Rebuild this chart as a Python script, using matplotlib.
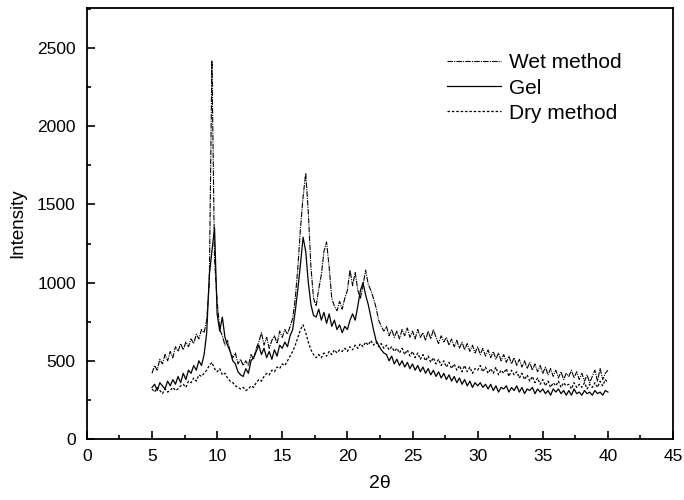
import numpy as np
import matplotlib
matplotlib.use('Agg')
import matplotlib.pyplot as plt
from matplotlib.ticker import MultipleLocator

plt.rcParams['font.family'] = ['Liberation Sans', 'DejaVu Sans']

# 2-theta grid (0.2 deg steps, 5..40)
two_theta = np.round(np.arange(5.0, 40.001, 0.2), 1)

# intensities, one row per degree
wet_method = [
    420, 470, 440, 510, 480,
    540, 500, 560, 520, 590,
    560, 610, 570, 620, 590,
    640, 610, 670, 640, 700,
    680, 760, 1000, 2420, 1150,
    880, 700, 660, 600, 630,
    560, 520, 550, 480, 510,
    470, 500, 470, 540, 510,
    580, 620, 680, 600, 650,
    580, 630, 660, 610, 690,
    650, 700, 670, 720, 770,
    900, 1100, 1350, 1550, 1700,
    1450, 1100, 900, 850, 960,
    1050, 1200, 1260, 1100, 900,
    850, 820, 880, 830, 900,
    950, 1080, 980, 1065, 950,
    900, 980, 1080, 990, 950,
    900, 840, 760, 720, 690,
    720, 660, 700, 650, 690,
    640, 700, 660, 710, 650,
    690, 640, 700, 650, 680,
    630, 690, 640, 700, 650,
    610, 660, 620, 650, 600,
    640, 590, 630, 580, 620,
    570, 610, 560, 600, 550,
    590, 540, 580, 530, 570,
    520, 560, 510, 550, 500,
    540, 490, 530, 480, 520,
    470, 510, 460, 500, 450,
    490, 440, 480, 430, 470,
    420, 460, 410, 450, 400,
    440, 390, 430, 380, 420,
    400, 440, 390, 430, 380,
    420, 370, 410, 360, 400,
    440, 370, 450, 380, 420,
    440,
]

gel = [
    330, 350, 310, 360, 340,
    320, 370, 340, 380, 350,
    400, 360, 420, 380, 440,
    420, 470, 440, 500, 470,
    540, 680, 1050, 1200, 1350,
    800, 690, 780, 650, 600,
    560, 500, 480, 430, 410,
    400, 450, 420, 500, 520,
    560, 600, 540, 580, 520,
    560, 510, 570, 530, 600,
    580, 620, 590, 660, 700,
    820, 960, 1120, 1290, 1200,
    1000, 860, 790, 780, 830,
    760, 810, 740, 800, 720,
    760, 700, 730, 680, 720,
    700, 760, 800, 760, 850,
    950, 1000, 920, 860, 780,
    700, 630, 600, 570, 550,
    540, 500, 530, 480, 510,
    470, 500, 460, 490, 450,
    480, 440, 470, 430, 460,
    420, 450, 410, 440, 400,
    430, 390, 420, 380, 410,
    370, 400, 360, 390, 350,
    380, 340, 370, 330, 360,
    340, 360, 330, 350, 320,
    350, 310, 340, 300, 330,
    320, 340, 300, 330, 310,
    340, 300, 330, 290, 320,
    310, 330, 290, 320, 300,
    320, 290, 310, 280, 320,
    300, 320, 290, 310, 280,
    310, 280, 320, 290, 300,
    280, 310, 290, 300, 280,
    310, 290, 300, 280, 310,
    300,
]

dry_method = [
    320, 300, 330, 310, 290,
    320, 300, 310, 330, 310,
    320, 340, 350, 330, 370,
    360, 390, 370, 410, 400,
    420, 440, 470, 490, 450,
    430, 450, 410, 420, 390,
    370, 360, 340, 330, 320,
    330, 310, 320, 340, 330,
    360, 380, 370, 400, 420,
    410, 440, 430, 460, 450,
    480, 470, 500, 530, 560,
    600, 650, 700, 730, 680,
    620, 570, 540, 520, 540,
    520, 550, 530, 560, 540,
    570, 550, 570, 560, 580,
    560, 590, 570, 600, 580,
    610, 590, 620, 600, 630,
    600, 620, 590, 610, 580,
    600, 570, 590, 560, 580,
    550, 580, 540, 570, 530,
    560, 520, 550, 510, 540,
    500, 530, 490, 520, 480,
    510, 470, 500, 460, 490,
    450, 480, 440, 470, 430,
    470, 430, 460, 420, 450,
    440, 470, 430, 460, 420,
    450, 420, 460, 410, 440,
    420, 450, 400, 440, 410,
    430, 390, 420, 380, 410,
    370, 400, 360, 390, 350,
    380, 340, 370, 330, 360,
    340, 370, 330, 360, 340,
    350, 320, 360, 330, 350,
    330, 360, 320, 350, 330,
    360, 330, 370, 340, 380,
    360,
]

fig = plt.figure(figsize=(6.84, 5.0), dpi=100)
ax = fig.add_axes([0.127, 0.122, 0.857, 0.862])

ax.plot(two_theta, wet_method, color='black', lw=0.8, ls=(0, (5, 1, 1, 1)), label='Wet method')
ax.plot(two_theta, gel, color='black', lw=0.9, ls='-', label='Gel')
ax.plot(two_theta, dry_method, color='black', lw=0.9, ls=(0, (2, 1.5)), label='Dry method')

ax.set_xlim(0, 45)
ax.set_ylim(0, 2756)
ax.xaxis.set_major_locator(MultipleLocator(5))
ax.xaxis.set_minor_locator(MultipleLocator(2.5))
ax.yaxis.set_major_locator(MultipleLocator(500))
ax.yaxis.set_minor_locator(MultipleLocator(250))
ax.tick_params(which='both', direction='in', top=False, right=False, labelsize=12.5, width=1.2)
ax.tick_params(which='major', length=6)
ax.tick_params(which='minor', length=3)
ax.tick_params(axis='y', pad=8)
ax.tick_params(axis='x', pad=7)
for s in ax.spines.values():
    s.set_linewidth(1.3)

ax.set_xlabel('2θ', fontsize=14, labelpad=8)
ax.set_ylabel('Intensity', fontsize=13.5, labelpad=8)

ax.legend(loc='upper left', bbox_to_anchor=(0.614, 0.895), frameon=False, fontsize=15,
          handlelength=2.6, handletextpad=0.4, labelspacing=0.3, borderpad=0, borderaxespad=0)

fig.savefig('out.png', dpi=100)
